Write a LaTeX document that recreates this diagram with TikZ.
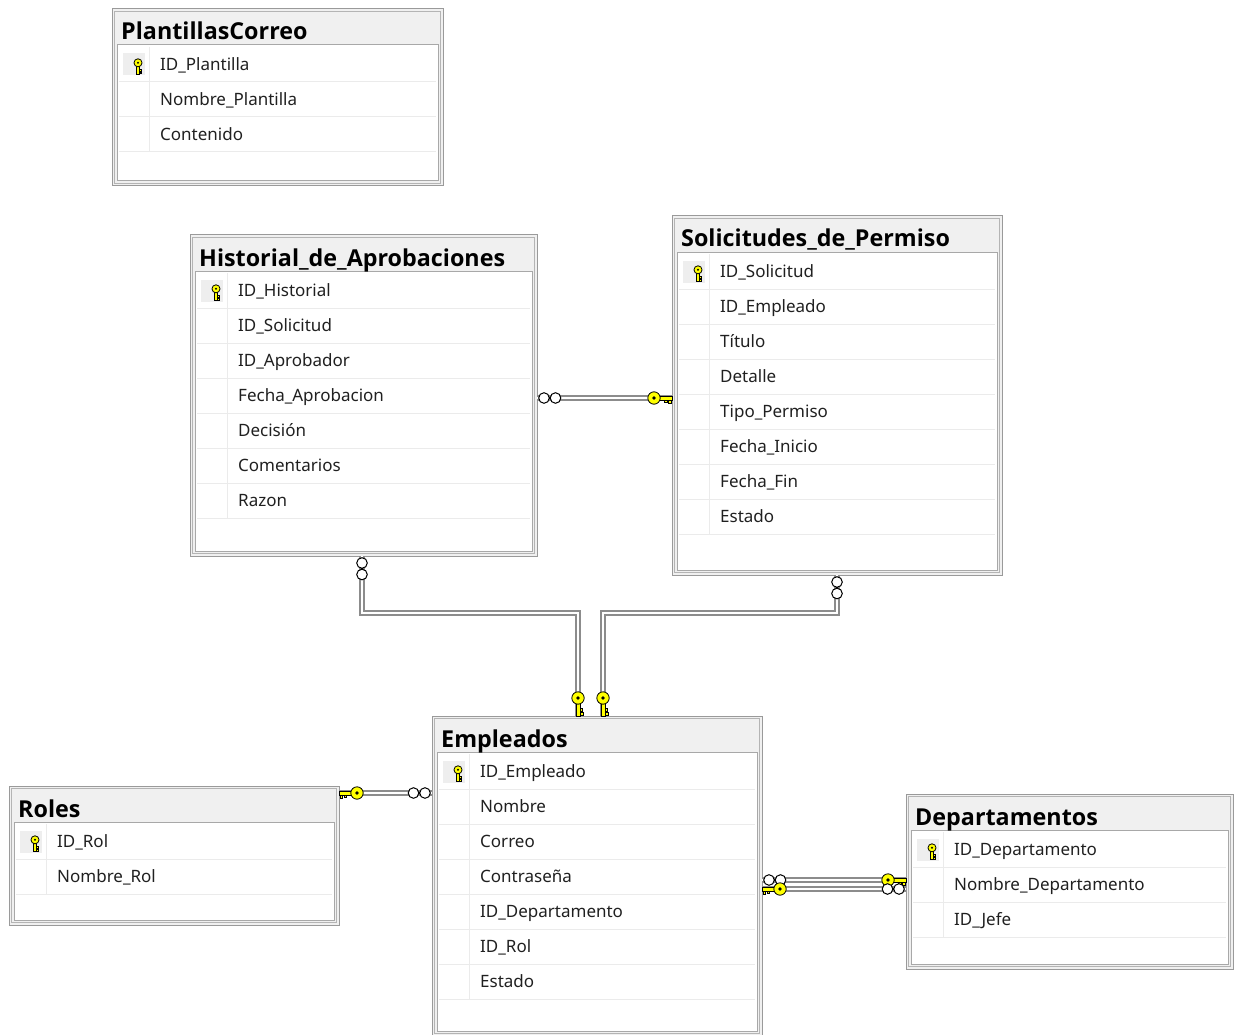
\documentclass[tikz,border=0pt]{standalone}
\usepackage{fontspec}
\setmainfont{Noto Sans}
\newfontfamily\titlefont{Open Sans}
\definecolor{frameline}{HTML}{9A9A9A}
\definecolor{frameline2}{HTML}{B4B4B4}
\definecolor{framefill}{HTML}{F0F0F0}
\definecolor{innerline}{HTML}{A8A8A8}
\definecolor{rowline}{HTML}{EBEBEB}
\definecolor{keycellc}{HTML}{EEEEEE}
\definecolor{keyyellow}{HTML}{FFFF00}
\definecolor{pipeedge}{HTML}{8C8C8C}
\definecolor{fieldtext}{HTML}{202020}
\newcommand\keyshape{%
  \filldraw[fill=keyyellow, draw=black, line width=0.7pt] (0,-2) rectangle (13,2);
  \filldraw[fill=keyyellow, draw=black, line width=0.7pt] (1,2) rectangle (3.5,5);
  \filldraw[fill=keyyellow, draw=black, line width=0.7pt] (5,2) rectangle (7.5,4.5);
  \filldraw[fill=keyyellow, draw=black, line width=0.8pt] (18,0) circle (6.2pt);
  \fill[black] (18,0) circle (1.8pt);
}
\tikzset{
  tframe/.style={draw=frameline, fill=framefill, line width=1pt, inner sep=0pt, outer sep=0pt, rectangle},
  innerframe/.style={draw=frameline2, line width=0.8pt},
  ttitle/.style={font=\titlefont\bfseries\fontsize{23.3}{28}\selectfont, inner sep=0pt, anchor=base west},
  field/.style={font=\fontsize{17}{20}\selectfont, inner sep=0pt, anchor=base west, text=fieldtext},
  rowsep/.style={draw=rowline, line width=1pt},
  pipe/.style={draw=pipeedge, line width=1.4pt, double=white, double distance=2.4pt},
  pics/key/.style={code={\keyshape}},
  pics/keyf/.style={code={\begin{scope}[yscale=-1]\keyshape\end{scope}}},
  pics/inf/.style={code={\filldraw[fill=white, draw=black, line width=1pt] (7,0) circle (5.3pt) (18.5,0) circle (5.3pt);}}
}
\newcommand\dbtable[7]{%
  \node[tframe, anchor=north west, minimum width={#4-#2}, minimum height={#5-#3}] (#1) at (#2,#3) {};
  \draw[innerframe] (#2+2.5,#3+2.5) rectangle (#4-2.5,#5-2.5);
  \filldraw[fill=white, draw=innerline, line width=1pt] (#2+5,#3+36) rectangle (#4-5,#5-5);
  \node[ttitle] (#1-title) at (#2+9,#3+31) {#6};
  \fill[keycellc] (#2+11,#3+44.5) rectangle (#2+33,#3+66.5);
  \pic[rotate=90, scale=0.65] at (#2+26,#3+65.5) {key};
  \foreach \f [count=\i] in {#7} {
    \draw[rowsep] (#2+7,#3+38+35*\i) -- (#4-7,#3+38+35*\i);
    \node[field] (#1-\i) at (#2+48,#3+26.5+35*\i) {\f};
    \xdef\nrows{\i}
  }
  \draw[rowsep] (#2+37,#3+38) -- (#2+37,#3+38+35*\nrows);
}
\begin{document}
\begin{tikzpicture}[x=1pt,y=-1pt]
\fill[white] (0,0) rectangle (1234,1035);
\useasboundingbox (0,0) rectangle (1234,1035);

\dbtable{plant}{112}{9}{443}{186}{PlantillasCorreo}{ID\_Plantilla,Nombre\_Plantilla,Contenido}
\dbtable{hist}{190}{235}{537}{556}{Historial\_de\_Aprobaciones}{ID\_Historial,ID\_Solicitud,ID\_Aprobador,Fecha\_Aprobacion,Decisión,Comentarios,Razon}
\dbtable{soli}{672}{216}{1002}{575}{Solicitudes\_de\_Permiso}{ID\_Solicitud,ID\_Empleado,Título,Detalle,Tipo\_Permiso,Fecha\_Inicio,Fecha\_Fin,Estado}
\dbtable{emp}{432}{716}{762}{1036}{Empleados}{ID\_Empleado,Nombre,Correo,Contraseña,ID\_Departamento,ID\_Rol,Estado}
\dbtable{roles}{9}{786}{339}{925}{Roles}{ID\_Rol,Nombre\_Rol}
\dbtable{dept}{906}{794}{1233}{969}{Departamentos}{ID\_Departamento,Nombre\_Departamento,ID\_Jefe}

% connectors
\coordinate (hy) at (0,398);
\coordinate (b1) at (362,613);
\coordinate (b2) at (578,613);
\coordinate (b3) at (837,613);
\coordinate (b4) at (603,613);
\coordinate (ry) at (0,793);
\coordinate (dy1) at (0,880);
\coordinate (dy2) at (0,889);

\draw[pipe] (hist.east |- hy) -- (soli.west |- hy);
\draw[pipe] (b1 |- hist.south) -- (b1) -- (b2) -- (b2 |- emp.north);
\draw[pipe] (b3 |- soli.south) -- (b3) -- (b4) -- (b4 |- emp.north);
\draw[pipe] (roles.east |- ry) -- (emp.west |- ry);
\draw[pipe] (emp.east |- dy1) -- (dept.west |- dy1);
\draw[pipe] (emp.east |- dy2) -- (dept.west |- dy2);

% end symbols
\pic at (hist.east |- hy) {inf};
\pic[rotate=180] at (soli.west |- hy) {keyf};
\pic[rotate=-90] at (b1 |- hist.south) {inf};
\pic[rotate=90] at (b2 |- emp.north) {key};
\pic[rotate=-90] at (b3 |- soli.south) {inf};
\pic[rotate=90] at (b4 |- emp.north) {key};
\pic at (roles.east |- ry) {key};
\pic[rotate=180] at (emp.west |- ry) {inf};
\pic at (emp.east |- dy1) {inf};
\pic[rotate=180] at (dept.west |- dy1) {keyf};
\pic at (emp.east |- dy2) {key};
\pic[rotate=180] at (dept.west |- dy2) {inf};
\end{tikzpicture}
\end{document}
